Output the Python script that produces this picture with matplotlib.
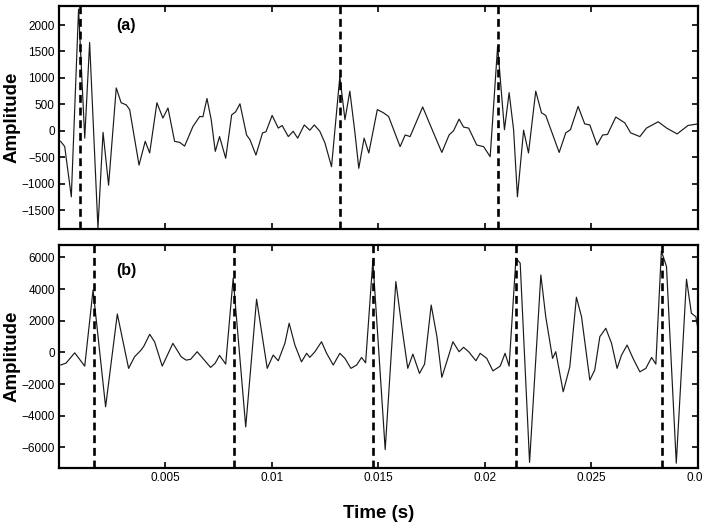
import numpy as np
import matplotlib
matplotlib.use("Agg")
import matplotlib.pyplot as plt
from matplotlib.ticker import FuncFormatter

plt.rcParams['font.family'] = ['Liberation Sans', 'DejaVu Sans']

# (a) traced signal: time (s), amplitude
t_a = [0.00008, 0.00027, 0.00058, 0.00092, 0.00121, 0.00144, 0.00183, 0.00207, 0.00233,
       0.00269, 0.00292, 0.00316, 0.00332, 0.00376, 0.00405, 0.00426, 0.00460, 0.00488,
       0.00512, 0.00543, 0.00567, 0.00590, 0.00629, 0.00661, 0.00676, 0.00695, 0.00715,
       0.00734, 0.00754, 0.00783, 0.00811, 0.00830, 0.00850, 0.00881, 0.00897, 0.00925,
       0.00956, 0.00972, 0.01001, 0.01030, 0.01048, 0.01077, 0.01100, 0.01121, 0.01152,
       0.01178, 0.01199, 0.01225, 0.01249, 0.01280, 0.01319, 0.01343, 0.01366, 0.01390,
       0.01408, 0.01433, 0.01455, 0.01495, 0.01524, 0.01548, 0.01602, 0.01626, 0.01649,
       0.01708, 0.01759, 0.01798, 0.01832, 0.01853, 0.01879, 0.01900, 0.01924, 0.01962,
       0.01994, 0.02025, 0.02060, 0.02092, 0.02114, 0.02135, 0.02153, 0.02182, 0.02205,
       0.02239, 0.02266, 0.02286, 0.02349, 0.02380, 0.02402, 0.02438, 0.02469, 0.02493,
       0.02527, 0.02553, 0.02576, 0.02615, 0.02657, 0.02685, 0.02728, 0.02759, 0.02814,
       0.02854, 0.02903, 0.02954, 0.03001]
amp_a = [-200, -300, -1250, 2300, -140, 1670, -1840, -30, -1030,
         810, 530, 490, 400, -650, -200, -420, 530, 240,
         430, -200, -220, -290, 80, 270, 265, 610, 210,
         -390, -110, -520, 300, 360, 510, -80, -170, -460,
         -40, -20, 290, 50, 100, -110, -10, -140, 110,
         10, 110, -10, -230, -680, 1030, 210, 750, -40,
         -710, -140, -420, 400, 340, 270, -300, -80, -110,
         450, -40, -410, -80, 0, 220, 70, 50, -270,
         -300, -490, 1600, 20, 720, 20, -1250, 10, -420,
         750, 340, 290, -410, -40, 20, 460, 130, 110,
         -270, -80, -70, 260, 150, -40, -110, 50, 170,
         50, -60, 100, 130]

# (b) traced signal
t_b = [0.00008, 0.00033, 0.00074, 0.00121, 0.00160, 0.00219, 0.00274, 0.00327, 0.00355,
       0.00386, 0.00399, 0.00426, 0.00449, 0.00485, 0.00535, 0.00574, 0.00597, 0.00618,
       0.00649, 0.00712, 0.00733, 0.00754, 0.00783, 0.00818, 0.00877, 0.00928, 0.00978,
       0.01006, 0.01030, 0.01061, 0.01081, 0.01108, 0.01139, 0.01163, 0.01178, 0.01202,
       0.01233, 0.01257, 0.01288, 0.01319, 0.01343, 0.01371, 0.01398, 0.01421, 0.01440,
       0.01474, 0.01532, 0.01582, 0.01610, 0.01638, 0.01662, 0.01693, 0.01717, 0.01748,
       0.01775, 0.01798, 0.01826, 0.01850, 0.01879, 0.01900, 0.01924, 0.01958, 0.01978,
       0.02009, 0.02038, 0.02072, 0.02095, 0.02114, 0.02146, 0.02166, 0.02210, 0.02263,
       0.02286, 0.02318, 0.02333, 0.02368, 0.02399, 0.02430, 0.02454, 0.02493, 0.02516,
       0.02540, 0.02568, 0.02595, 0.02621, 0.02642, 0.02668, 0.02696, 0.02728, 0.02756,
       0.02783, 0.02803, 0.02829, 0.02853, 0.02899, 0.02947, 0.02970, 0.02991, 0.03009]
amp_b = [-800, -680, -30, -870, 3940, -3440, 2420, -1010, -280,
         150, 400, 1140, 670, -870, 570, -280, -490, -440,
         40, -950, -700, -190, -740, 4680, -4710, 3360, -1010,
         -170, -530, 570, 1840, 460, -600, -60, -316, 40,
         670, -63, -800, -60, -380, -1010, -800, -320, -660,
         5800, -6140, 4470, 1620, -1010, -110, -1330, -740, 2990,
         990, -1580, -380, 670, 40, 320, 40, -530, -60,
         -380, -1170, -870, -60, -870, 5950, 5630, -6950, 4890,
         2250, -380, 40, -2490, -910, 3480, 2250, -1750, -1120,
         990, 1520, 570, -1010, -170, 460, -380, -1230, -1010,
         -320, -740, 6400, 5420, -7000, 4620, 2470, 2250, 780]

marks_a = [0.00097, 0.01322, 0.02062]
marks_b = [0.00163, 0.00822, 0.01476, 0.02146, 0.02834]

xticks = [0.005, 0.01, 0.015, 0.02, 0.025, 0.03]
yticks_a = [-1500, -1000, -500, 0, 500, 1000, 1500, 2000]
yticks_b = [-6000, -4000, -2000, 0, 2000, 4000, 6000]

fig = plt.figure(figsize=(7.02, 5.23), dpi=100)
ax1 = fig.add_axes([0.084, 0.562, 0.910, 0.4265])
ax2 = fig.add_axes([0.084, 0.105, 0.910, 0.4265])


def style(ax, yt, ylim, label):
    ax.set_xlim(0, 0.03)
    ax.set_ylim(*ylim)
    ax.set_xticks(xticks)
    ax.set_yticks(yt)
    ax.tick_params(direction='in', length=4, width=1.2, top=True, right=True,
                   labelsize=8.5, pad=3)
    for s in ax.spines.values():
        s.set_linewidth(1.6)
    ax.set_ylabel('Amplitude', fontsize=13.5, fontweight='bold', labelpad=1)
    ax.text(label[1], label[2], label[0], fontsize=11.5, fontweight='bold',
            ha='left', va='center')


ax1.plot(t_a, amp_a, color='#1a1a1a', lw=0.85)
for m in marks_a:
    ax1.axvline(m, color='black', lw=1.9, ls=(0, (3.0, 1.8)))
style(ax1, yticks_a, (-1860, 2360), ('(a)', 0.0027, 2000))
ax1.tick_params(labelbottom=False)

ax2.plot(t_b, amp_b, color='#1a1a1a', lw=0.85)
for m in marks_b:
    ax2.axvline(m, color='black', lw=1.9, ls=(0, (3.0, 1.8)))
style(ax2, yticks_b, (-7310, 6780), ('(b)', 0.0027, 5200))
ax2.xaxis.set_major_formatter(FuncFormatter(lambda v, p: '%g' % v))
ax2.set_xlabel('Time (s)', fontsize=13.5, fontweight='bold', labelpad=15)

fig.savefig('out.png', dpi=100)
